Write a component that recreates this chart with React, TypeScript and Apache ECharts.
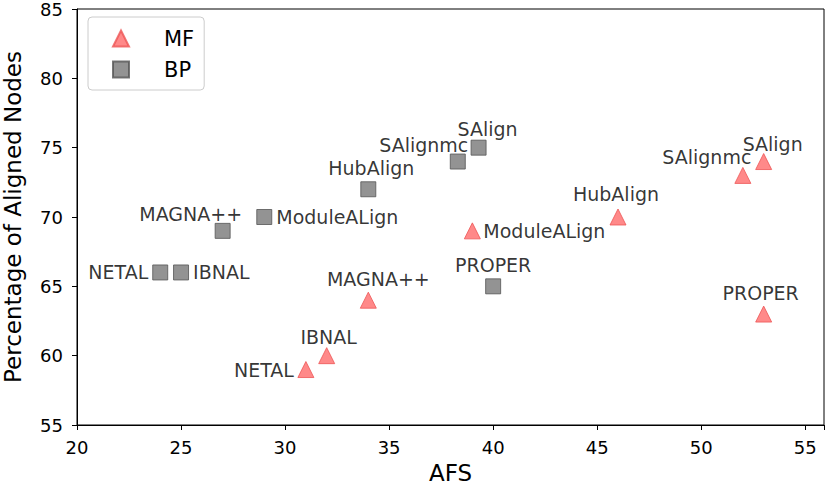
import React, { useEffect, useRef } from "react";
import * as echarts from "echarts";

const methods = ["NETAL", "IBNAL", "MAGNA++", "ModuleALign", "HubAlign", "SAlignmc", "SAlign", "PROPER"];
const mfAFS = [31, 32, 34, 39, 46, 52, 53, 53];
const mfAligned = [59, 60, 64, 69, 70, 73, 74, 63];
const bpAFS = [24, 25, 27, 29, 34, 38.3, 39.3, 40];
const bpAligned = [66, 66, 69, 70, 72, 74, 75, 65];
const seriesNames = ["MF", "BP"];
const xTicks = [20, 25, 30, 35, 40, 45, 50, 55];

// label placement (style only): [align, dx, dy]
const mfPlace: [string, number, number][] = [
  ["right", -12, 0],
  ["center", 2, -19],
  ["center", 10, -21],
  ["left", 11, 0],
  ["center", -2, -23],
  ["center", -36, -18],
  ["center", 9, -18],
  ["center", -3, -21],
];
const bpPlace: [string, number, number][] = [
  ["right", -12, 0],
  ["left", 12, 0],
  ["center", -32, -17],
  ["left", 12, 0],
  ["center", 3, -21],
  ["center", -34, -17],
  ["center", 9, -19],
  ["center", 0, -21],
];

const FONT = "DejaVu Sans";

function buildData(xs: number[], ys: number[], place: [string, number, number][]) {
  return methods.map((name, i) => ({
    name,
    value: [xs[i], ys[i]],
    label: {
      show: true,
      formatter: name,
      position: "inside",
      align: place[i][0],
      verticalAlign: "middle",
      offset: [place[i][1], place[i][2]],
      color: "#000",
      fontSize: 19,
      fontFamily: FONT,
    },
  }));
}

export default function App() {
  const ref = useRef<HTMLDivElement>(null);
  useEffect(() => {
    if (!ref.current) return;
    const chart = echarts.init(ref.current, null, { renderer: "svg" });
    chart.setOption({
      animation: false,
      backgroundColor: "#fff",
      textStyle: { fontFamily: FONT },
      grid: {
        left: 77,
        right: 2,
        top: 9,
        bottom: 61,
        containLabel: false,
        outerBoundsMode: "none",
        show: true,
        borderColor: "#000",
        borderWidth: 1,
      },
      legend: {
        left: 88,
        top: 17,
        orient: "vertical",
        data: seriesNames,
        padding: [11, 10, 10, 24],
        itemGap: 10,
        itemWidth: 16,
        itemHeight: 16,
        borderColor: "#cccccc",
        borderWidth: 1,
        borderRadius: 4,
        backgroundColor: "#fff",
        textStyle: { fontSize: 21, fontFamily: FONT, color: "#000", padding: [0, 0, 0, 30] },
      },
      xAxis: {
        type: "value",
        min: 20,
        max: 55.9,
        interval: 5,
        name: "AFS",
        nameLocation: "middle",
        nameGap: 36,
        nameTextStyle: { fontSize: 23, fontFamily: FONT, color: "#000" },
        axisLine: { show: true, lineStyle: { color: "#000", width: 1 } },
        axisTick: { show: true, length: 5, lineStyle: { color: "#000" } },
        axisLabel: {
          fontSize: 18,
          fontFamily: FONT,
          color: "#000",
          margin: 13,
          formatter: (v: number) => (xTicks.indexOf(v) >= 0 ? String(v) : ""),
        },
        splitLine: { show: false },
      },
      yAxis: {
        type: "value",
        min: 55,
        max: 85,
        interval: 5,
        name: "Percentage of Aligned Nodes",
        nameLocation: "middle",
        nameGap: 53,
        nameTextStyle: { fontSize: 23, fontFamily: FONT, color: "#000" },
        axisLine: { show: true, lineStyle: { color: "#000", width: 1 } },
        axisTick: { show: true, length: 5, lineStyle: { color: "#000" } },
        axisLabel: { fontSize: 18, fontFamily: FONT, color: "#000", margin: 14 },
        splitLine: { show: false },
      },
      series: [
        {
          name: seriesNames[0],
          type: "scatter",
          symbol: "triangle",
          symbolSize: 16,
          itemStyle: { color: "#ff6b6b", borderColor: "#ee5555", borderWidth: 1 },
          data: buildData(mfAFS, mfAligned, mfPlace),
        },
        {
          name: seriesNames[1],
          type: "scatter",
          symbol: "rect",
          symbolSize: 15,
          itemStyle: { color: "#787878", borderColor: "#555555", borderWidth: 1 },
          data: buildData(bpAFS, bpAligned, bpPlace),
        },
      ],
    });
    return () => chart.dispose();
  }, []);
  return <div ref={ref} style={{ width: 826, height: 486, position: "absolute", left: 0, top: 0 }} />;
}
